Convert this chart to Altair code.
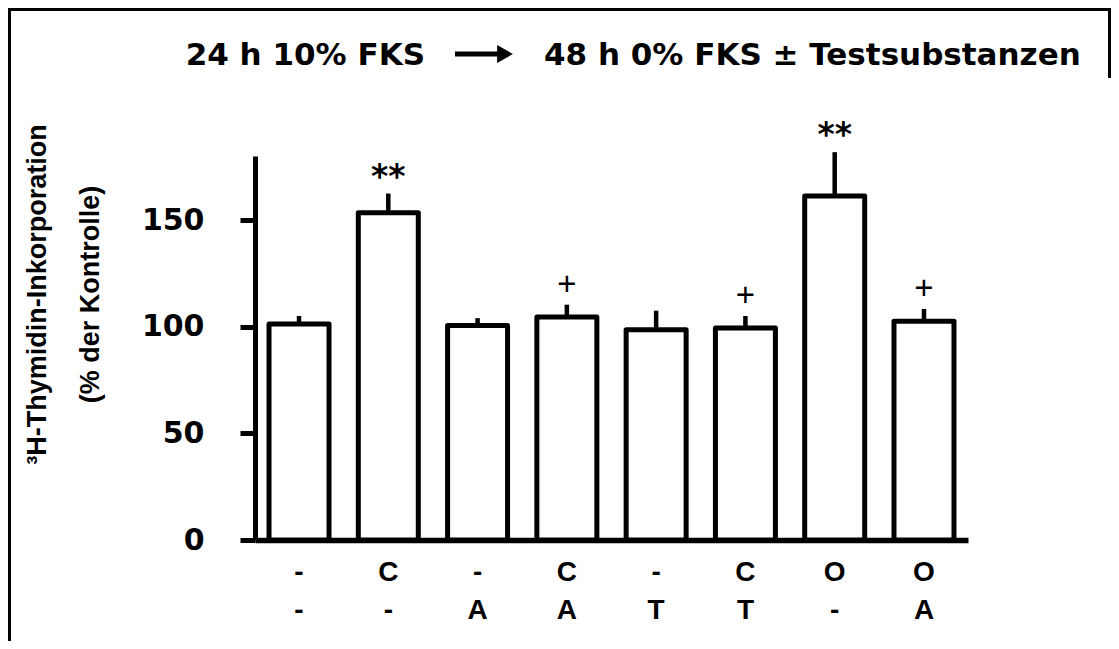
import altair as alt
import pandas as pd

# ---- data ----
row1 = ["-", "C", "-", "C", "-", "C", "O", "O"]
row2 = ["-", "-", "A", "A", "T", "T", "-", "A"]
means = [101.2, 153.4, 100.5, 104.5, 98.6, 99.4, 161.2, 102.5]
sems = [3.8, 9.0, 3.5, 5.8, 8.9, 5.6, 20.6, 5.8]
signif = ["", "**", "", "+", "", "+", "**", "+"]
y_ticks = [0, 50, 100, 150]
title_left = "24 h 10% FKS"
title_right = "48 h 0% FKS \u00b1 Testsubstanzen"
y_title = ["\u00b3H-Thymidin-Inkorporation", "(% der Kontrolle)"]

groups = [f"{a}|{b}" for a, b in zip(row1, row2)]
df = pd.DataFrame({"group": groups, "mean": means, "sem": sems, "sig": signif})
df["top"] = df["mean"] + df["sem"]

W, H = 713, 384
PAD = {"left": 247, "top": 148, "right": 143, "bottom": 101}

xenc = alt.X(
    "group:N",
    sort=groups,
    scale=alt.Scale(paddingInner=0.328, paddingOuter=0.157),
    axis=alt.Axis(
        title=None,
        labelExpr="split(datum.label, '|')",
        ticks=False,
        domainWidth=5.5,
        domainColor="black",
        labelAngle=0,
        labelFont="Liberation Sans",
        labelFontWeight="bold",
        labelFontSize=28,
        labelLineHeight=38,
        labelPadding=18,
        labelColor="black",
    ),
)
yscale = alt.Scale(domain=[0, 180], nice=False)
yenc = alt.Y(
    "mean:Q",
    scale=yscale,
    axis=alt.Axis(
        values=y_ticks,
        grid=False,
        tickSize=15,
        tickWidth=5,
        tickColor="black",
        domainWidth=5,
        domainColor="black",
        labelFont="DejaVu Sans",
        labelFontWeight="bold",
        labelFontSize=30,
        labelPadding=36,
        labelColor="black",
        title=y_title,
        titleFont="Liberation Sans",
        titleFontWeight="bold",
        titleFontSize=27,
        titleLineHeight=53,
        titleColor="black",
        titleAngle=270,
        titleAlign="center",
        titleBaseline="alphabetic",
        titleX=-210,
        titleY=138,
    ),
)

base = alt.Chart(df)

bars = base.mark_bar(fill="white", stroke="black", strokeWidth=5, strokeJoin="round").encode(
    x=xenc, y=yenc
)

err = base.mark_rule(color="black", strokeWidth=4.5).encode(
    x=alt.X("group:N", sort=groups),
    y=alt.Y("mean:Q", scale=yscale),
    y2="top:Q",
)

stars = base.transform_filter("datum.sig == '**'").mark_text(
    font="DejaVu Sans", fontWeight="bold", fontSize=33, color="black",
    baseline="alphabetic", dy=-6,
).encode(x=alt.X("group:N", sort=groups), y=alt.Y("top:Q", scale=yscale), text="sig:N")

plus = base.transform_filter("datum.sig == '+'").mark_text(
    font="Liberation Sans", fontSize=33, color="black",
    baseline="alphabetic", dy=-10,
).encode(x=alt.X("group:N", sort=groups), y=alt.Y("top:Q", scale=yscale), text="sig:N")

tdf = pd.DataFrame({"a": [title_left], "b": [title_right]})
title_a = alt.Chart(tdf).mark_text(
    font="DejaVu Sans", fontWeight="bold", fontSize=31, color="black",
    baseline="alphabetic", align="right",
).encode(x=alt.value(170), y=alt.value(-91), text="a:N")
title_b = alt.Chart(tdf).mark_text(
    font="DejaVu Sans", fontWeight="bold", fontSize=31, color="black",
    baseline="alphabetic", align="left",
).encode(x=alt.value(289), y=alt.value(-91), text="b:N")

one = pd.DataFrame({"k": [0]})
arrow_shaft = alt.Chart(one).mark_rule(color="black", strokeWidth=5).encode(
    x=alt.value(200), x2=alt.value(248), y=alt.value(-102)
)
arrow_head = alt.Chart(one).mark_point(
    shape="triangle-right", filled=True, color="black", opacity=1, size=330
).encode(x=alt.value(250), y=alt.value(-102))

frame_top = alt.Chart(one).mark_rule(color="black", strokeWidth=3).encode(
    x=alt.value(-PAD["left"]), x2=alt.value(W + PAD["right"]), y=alt.value(-PAD["top"] + 1.5)
)
frame_left = alt.Chart(one).mark_rule(color="black", strokeWidth=3).encode(
    x=alt.value(-PAD["left"] + 1.5), y=alt.value(-PAD["top"]), y2=alt.value(H + PAD["bottom"] + 20)
)
frame_right = alt.Chart(one).mark_rule(color="black", strokeWidth=3).encode(
    x=alt.value(W + PAD["right"] - 1.5), y=alt.value(-PAD["top"]), y2=alt.value(-78)
)

chart = alt.layer(
    bars, err, stars, plus, title_a, title_b, arrow_shaft, arrow_head,
    frame_top, frame_left, frame_right,
).properties(
    width=W,
    height=H,
    padding=PAD,
    autosize=alt.AutoSizeParams(type="none"),
    background="white",
).configure_view(stroke=None)

chart.save("out.html", embed_options={"renderer": "svg", "actions": False})
